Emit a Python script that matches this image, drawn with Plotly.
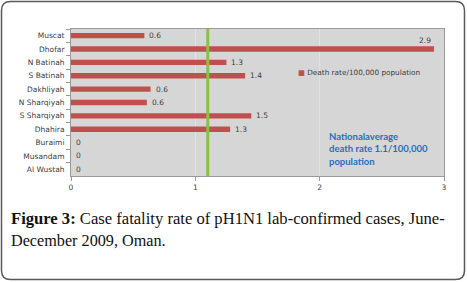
import plotly.graph_objects as go

regions = ["Muscat", "Dhofar", "N Batinah", "S Batinah", "Dakhliyah", "N Sharqiyah",
           "S Sharqiyah", "Dhahira", "Buraimi", "Musandam", "Al Wustah"]
death_rate = [0.59, 2.92, 1.25, 1.40, 0.64, 0.61, 1.45, 1.28, 0, 0, 0]
rate_labels = ["0.6", "2.9", "1.3", "1.4", "0.6", "0.6", "1.5", "1.3", "0", "0", "0"]
national_average = 1.1
series_name = "Death rate/100,000 population"

W, H = 467, 282
ML, MR, MT, MB = 71, 23, 29, 106
PW, PH = W - ML - MR, H - MT - MB


def px(x):
    return (x - ML) / PW


def py(y):
    return (H - MB - y) / PH


BAR = "#C0504D"
TXT = "#404040"
LBL = dict(family="DejaVu Sans", size=7.5, color=TXT)

fig = go.Figure()
fig.add_trace(go.Bar(
    x=death_rate, y=regions, orientation="h", name=series_name,
    marker=dict(color=BAR, line=dict(width=0)),
    width=0.4, showlegend=False,
))

annotations = []
for v, r, t in zip(death_rate, regions, rate_labels):
    if v >= 2.5:
        # label would run past the plot edge: place it above the bar end
        annotations.append(dict(x=v, y=r, xref="x", yref="y", text=t, showarrow=False,
                                xanchor="right", yanchor="bottom", yshift=2, xshift=-1,
                                font=LBL))
    else:
        annotations.append(dict(x=v, y=r, xref="x", yref="y", text=t, showarrow=False,
                                xanchor="left", yanchor="middle", xshift=3, font=LBL))

# legend-like label
annotations.append(dict(x=px(296), y=py(72), xref="paper", yref="paper", showarrow=False,
                        xanchor="left", yanchor="middle",
                        text=f"<span style='color:{BAR}'>■</span> {series_name}",
                        font=dict(family="DejaVu Sans", size=7.3, color=TXT)))

annotations.append(dict(x=px(327), y=py(149), xref="paper", yref="paper", showarrow=False,
                        xanchor="left", yanchor="middle", align="left",
                        text=f"<b>Nationalaverage<br>death rate {national_average}/100,000<br>population</b>",
                        font=dict(family="Lato", size=9.5, color="#1F6FC0")))

annotations.append(dict(x=px(9), y=py(230), xref="paper", yref="paper", showarrow=False,
                        xanchor="left", yanchor="bottom",
                        text="<b>Figure 3:</b> Case fatality rate of pH1N1 lab-confirmed cases, June-",
                        font=dict(family="Liberation Serif", size=16.6, color="#111111")))
annotations.append(dict(x=px(9), y=py(252), xref="paper", yref="paper", showarrow=False,
                        xanchor="left", yanchor="bottom",
                        text="December 2009, Oman.",
                        font=dict(family="Liberation Serif", size=16.2, color="#111111")))

# rounded frame
x0, x1, y0, y1, r = 1.5, 464.5, 1.5, 279.5, 9
frame = (f"M {px(x0 + r)},{py(y0)} L {px(x1 - r)},{py(y0)} "
         f"Q {px(x1)},{py(y0)} {px(x1)},{py(y0 + r)} "
         f"L {px(x1)},{py(y1 - r)} Q {px(x1)},{py(y1)} {px(x1 - r)},{py(y1)} "
         f"L {px(x0 + r)},{py(y1)} Q {px(x0)},{py(y1)} {px(x0)},{py(y1 - r)} "
         f"L {px(x0)},{py(y0 + r)} Q {px(x0)},{py(y0)} {px(x0 + r)},{py(y0)} Z")

shapes = [
    dict(type="line", xref="x", yref="paper", x0=national_average, x1=national_average,
         y0=0, y1=1, line=dict(color="#8DBE45", width=3), layer="above"),
    dict(type="path", xref="paper", yref="paper", path=frame,
         line=dict(color="#5A5A5A", width=1.5)),
]

fig.update_layout(
    width=W, height=H,
    margin=dict(l=ML, r=MR, t=MT, b=MB),
    paper_bgcolor="white", plot_bgcolor="#D6D6D6",
    annotations=annotations, shapes=shapes, bargap=0.6,
    xaxis=dict(range=[0, 3], tickvals=[0, 1, 2, 3], showgrid=True, gridcolor="#E2E2E2",
               gridwidth=1, zeroline=False, showline=True, linecolor="#9A9A9A", mirror=True,
               ticks="outside", ticklen=4, tickcolor="#9A9A9A",
               tickfont=dict(family="DejaVu Sans", size=7.5, color=TXT)),
    yaxis=dict(autorange="reversed", showline=True, linecolor="#9A9A9A", mirror=True,
               ticks="outside", ticklen=4, tickcolor="#9A9A9A", tickson="boundaries",
               showgrid=False, ticklabelstandoff=4,
               tickfont=dict(family="DejaVu Sans", size=7.5, color=TXT)),
)

fig.write_html("out.html", config={"displayModeBar": False},
               post_script="document.body.style.margin='0px';")
